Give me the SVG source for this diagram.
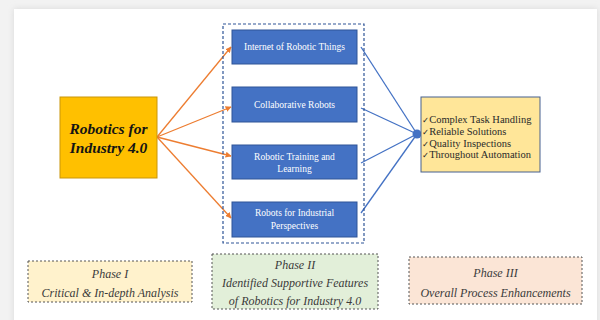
<svg xmlns="http://www.w3.org/2000/svg" width="600" height="320" viewBox="0 0 600 320">
  <defs>
    <marker id="arrOrange" viewBox="0 0 10 10" refX="9" refY="5" markerWidth="6" markerHeight="6" orient="auto" markerUnits="userSpaceOnUse">
      <path d="M0,0 L10,5 L0,10 z" fill="#ed7d31"/>
    </marker>
    <filter id="soft" x="-5%" y="-5%" width="110%" height="110%">
      <feGaussianBlur stdDeviation="3"/>
    </filter>
    <style>
      .feat rect { fill: #4472c4; stroke: #2f5597; stroke-width: 1; }
      .feat text { fill: #ffffff; font-family: "Liberation Serif", serif; font-size: 9.5px; text-anchor: middle; }
      .orange { stroke: #ed7d31; stroke-width: 1.3; fill: none; marker-end: url(#arrOrange); }
      .blue { stroke: #4472c4; stroke-width: 1.3; fill: none; }
      .phase rect { stroke: #555555; stroke-width: 1; stroke-dasharray: 2 2; }
      .phase text { fill: #3a3a3a; font-family: "Liberation Serif", serif; font-style: italic; font-size: 12px; text-anchor: middle; }
      .outcome { fill: #2a2a2a; font-family: "Liberation Serif", serif; font-size: 10.5px; }
      .tick { font-family: "DejaVu Sans", sans-serif; font-size: 8.5px; }
    </style>
  </defs>

  <!-- page backdrop -->
  <rect x="0" y="0" width="600" height="320" fill="#f2f2f2"/>
  <rect x="14" y="9" width="583" height="320" fill="#d8d8d8" filter="url(#soft)"/>
  <rect x="14" y="9" width="583" height="320" fill="#ffffff"/>

  <!-- connectors -->
  <g id="connectors">
    <line class="orange" x1="157" y1="137" x2="231" y2="47"/>
    <line class="orange" x1="157" y1="137" x2="231" y2="107"/>
    <line class="orange" x1="157" y1="137" x2="231" y2="156"/>
    <line class="orange" x1="157" y1="137" x2="231" y2="218"/>
    <line class="blue" x1="361" y1="47" x2="417" y2="134"/>
    <line class="blue" x1="361" y1="108" x2="417" y2="134"/>
    <line class="blue" x1="361" y1="163" x2="417" y2="134"/>
    <line class="blue" x1="361" y1="213" x2="417" y2="134"/>
    <circle cx="417" cy="134" r="4.5" fill="#4472c4"/>
  </g>

  <!-- central topic -->
  <g id="robotics">
    <rect x="60" y="97" width="97" height="81" fill="#ffc000" stroke="#c9960a" stroke-width="1"/>
    <text x="108.5" y="134" font-family="Liberation Serif, serif" font-size="15.5" font-weight="bold" font-style="italic" fill="#141414" text-anchor="middle">Robotics for</text>
    <text x="108.5" y="153" font-family="Liberation Serif, serif" font-size="15.5" font-weight="bold" font-style="italic" fill="#141414" text-anchor="middle">Industry 4.0</text>
  </g>

  <!-- feature group frame -->
  <g id="feature-frame">
    <rect x="223" y="24" width="141" height="219" fill="none" stroke="#2f5597" stroke-width="1.2" stroke-dasharray="3 2"/>
  </g>

  <g id="iort" class="feat">
    <rect x="232" y="30" width="125" height="34"/>
    <text x="294.5" y="50">Internet of Robotic Things</text>
  </g>
  <g id="cobots" class="feat">
    <rect x="232" y="87" width="125" height="35"/>
    <text x="294.5" y="108">Collaborative Robots</text>
  </g>
  <g id="training" class="feat">
    <rect x="232" y="145" width="125" height="34"/>
    <text x="294.5" y="160">Robotic Training and</text>
    <text x="294.5" y="172">Learning</text>
  </g>
  <g id="industrial" class="feat">
    <rect x="232" y="202" width="125" height="35"/>
    <text x="294.5" y="216">Robots for Industrial</text>
    <text x="294.5" y="229">Perspectives</text>
  </g>

  <!-- outcomes -->
  <g id="outcomes">
    <rect x="421" y="97" width="119" height="75" fill="#ffe699" stroke="#46608f" stroke-width="1"/>
    <text class="outcome" x="422" y="123"><tspan class="tick">✓</tspan>Complex Task Handling</text>
    <text class="outcome" x="422" y="135"><tspan class="tick">✓</tspan>Reliable Solutions</text>
    <text class="outcome" x="422" y="146.5"><tspan class="tick">✓</tspan>Quality Inspections</text>
    <text class="outcome" x="422" y="158"><tspan class="tick">✓</tspan>Throughout Automation</text>
  </g>

  <!-- phases -->
  <g id="phase1" class="phase">
    <rect x="28" y="261" width="164" height="41" fill="#fff2cc"/>
    <text x="110" y="278">Phase I</text>
    <text x="110" y="297">Critical &amp; In-depth Analysis</text>
  </g>
  <g id="phase2" class="phase">
    <rect x="212" y="254" width="166" height="55" fill="#e2efd9"/>
    <text x="295" y="269">Phase II</text>
    <text x="295" y="287" font-size="11.7">Identified Supportive Features</text>
    <text x="295" y="305" font-size="11.7">of Robotics for Industry 4.0</text>
  </g>
  <g id="phase3" class="phase">
    <rect x="409" y="257" width="173" height="47" fill="#fbe5d6"/>
    <text x="495.5" y="277">Phase III</text>
    <text x="495.5" y="297">Overall Process Enhancements</text>
  </g>
</svg>
